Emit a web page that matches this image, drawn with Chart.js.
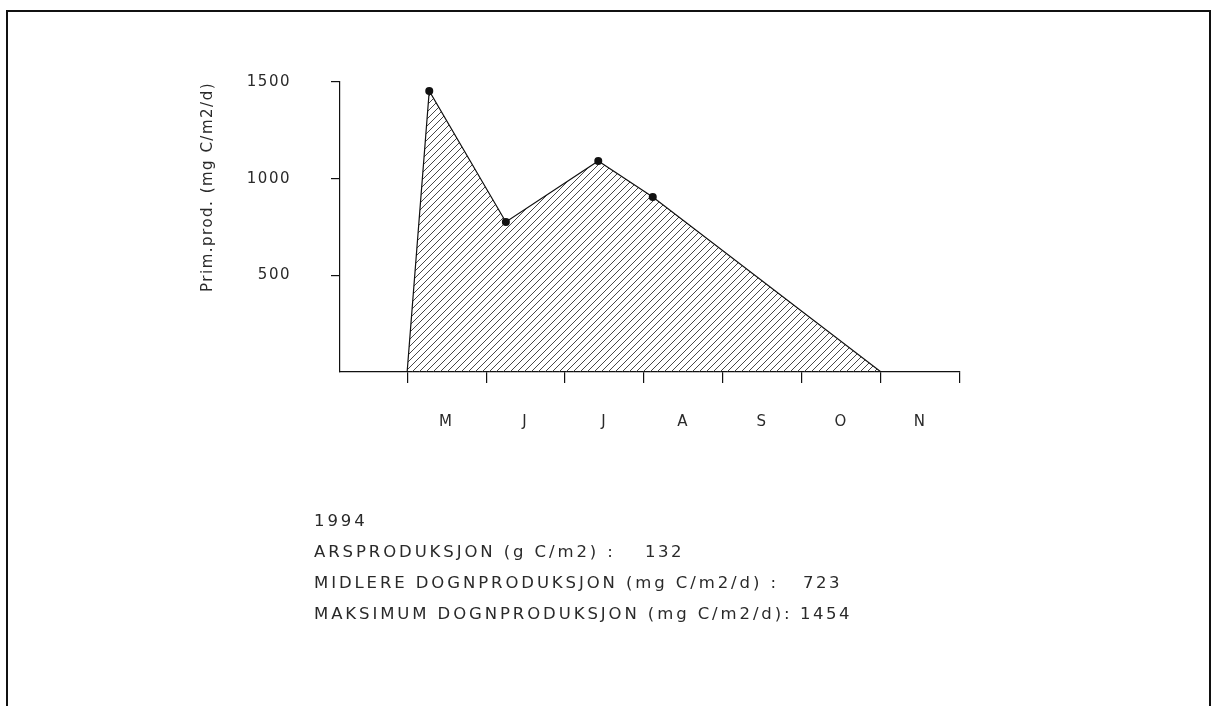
<!DOCTYPE html>
<html>
<head>
<meta charset="utf-8">
<script src="https://cdn.jsdelivr.net/npm/chart.js@4.4.1/dist/chart.umd.min.js"></script>
<style>
  html, body { margin: 0; padding: 0; background: #fff; }
  #page { position: relative; width: 1213px; height: 706px; overflow: hidden; }
  #frame { position: absolute; left: 6px; top: 10px; width: 1201px; height: 700px; border: 2px solid #111; }
  #chart { position: absolute; left: 0; top: 0; }
  #stats { position: absolute; left: 314px; top: 505px; font-family: "DejaVu Sans", sans-serif;
           font-size: 16.5px; line-height: 31px; color: #2a2a2a; letter-spacing: 2.9px; white-space: pre; }
  #stats div { position: relative; height: 31px; }
  #stats .val { position: absolute; top: 0; letter-spacing: 2.5px; }
</style>
</head>
<body>
<div id="page">
  <div id="frame"></div>
  <canvas id="chart" width="1213" height="706"></canvas>
  <div id="stats"></div>
</div>
<script>
// Data (x in months, 0 = 1 May)
const monthPos = [0, 0.28, 1.25, 2.42, 3.11, 6.0];
const primProd = [0, 1454, 776, 1092, 905, 0];
const monthLabels = ["M", "J", "J", "A", "S", "O", "N"];
const monthTicks = [0, 1, 2, 3, 4, 5, 6, 7];
const yTicks = [500, 1000, 1500];

const statYear = "1994";
const statLabels = [
  "ARSPRODUKSJON (g C/m2) :",
  "MIDLERE DOGNPRODUKSJON (mg C/m2/d) :",
  "MAKSIMUM DOGNPRODUKSJON (mg C/m2/d):"
];
const statValues = [132, 723, 1454];

// Text block under the chart
const statsBox = document.getElementById("stats");
const yearLine = document.createElement("div");
yearLine.textContent = statYear;
statsBox.appendChild(yearLine);
const valueOffsets = [331, 489, 486];
statLabels.forEach((label, i) => {
  const line = document.createElement("div");
  line.textContent = label;
  const v = document.createElement("span");
  v.className = "val";
  v.style.left = valueOffsets[i] + "px";
  v.textContent = statValues[i];
  line.appendChild(v);
  statsBox.appendChild(line);
});

// Hatch pattern for the filled area
function makeHatch() {
  const c = document.createElement("canvas");
  c.width = 7;
  c.height = 7;
  const g = c.getContext("2d");
  g.strokeStyle = "#333";
  g.lineWidth = 0.9;
  g.beginPath();
  g.moveTo(0, 7); g.lineTo(7, 0);
  g.moveTo(-1, 1); g.lineTo(1, -1);
  g.moveTo(6, 8); g.lineTo(8, 6);
  g.stroke();
  return g.createPattern(c, "repeat");
}

const spacing = {
  id: "spacing",
  beforeDraw(chart) { chart.ctx.letterSpacing = "1.5px"; }
};

const axisFont = { family: "DejaVu Sans", size: 15 };

new Chart(document.getElementById("chart").getContext("2d"), {
  type: "line",
  data: {
    datasets: [{
      data: monthPos.map((x, i) => ({ x: x, y: primProd[i] })),
      borderColor: "#111",
      borderWidth: 1.2,
      backgroundColor: makeHatch(),
      fill: "origin",
      tension: 0,
      pointRadius: (ctx) => (primProd[ctx.dataIndex] > 0 ? 4 : 0),
      pointBackgroundColor: "#111",
      pointBorderColor: "#111",
      pointBorderWidth: 0
    }]
  },
  options: {
    responsive: false,
    animation: false,
    layout: { padding: { left: 0, top: 82, right: 253, bottom: 0 } },
    plugins: { legend: { display: false }, tooltip: { enabled: false } },
    scales: {
      x: {
        type: "linear",
        min: -0.85,
        max: 7,
        afterBuildTicks: (scale) => { scale.ticks = monthTicks.map((v) => ({ value: v })); },
        afterFit: (scale) => { scale.height = 334; },
        border: { display: true, color: "#111", width: 1.2 },
        grid: { drawOnChartArea: false, drawTicks: true, tickLength: 11, color: "#111", lineWidth: 1.2 },
        ticks: {
          autoSkip: false,
          maxRotation: 0,
          padding: 30,
          labelOffset: 39,
          color: "#2a2a2a",
          font: axisFont,
          callback: (v) => monthLabels[v] || ""
        }
      },
      y: {
        min: 0,
        max: 1500,
        afterBuildTicks: (scale) => { scale.ticks = yTicks.map((v) => ({ value: v })); },
        afterFit: (scale) => { scale.width = 340; },
        border: { display: true, color: "#111", width: 1.2 },
        grid: { drawOnChartArea: false, drawTicks: true, tickLength: 9, color: "#111", lineWidth: 1.2 },
        ticks: { padding: 40, color: "#2a2a2a", font: axisFont, callback: (v) => String(v) },
        title: {
          display: true,
          text: "Prim.prod. (mg C/m2/d)",
          align: "end",
          color: "#2a2a2a",
          font: axisFont,
          padding: { top: 199, bottom: 0 }
        }
      }
    }
  },
  plugins: [spacing]
});
</script>
</body>
</html>
